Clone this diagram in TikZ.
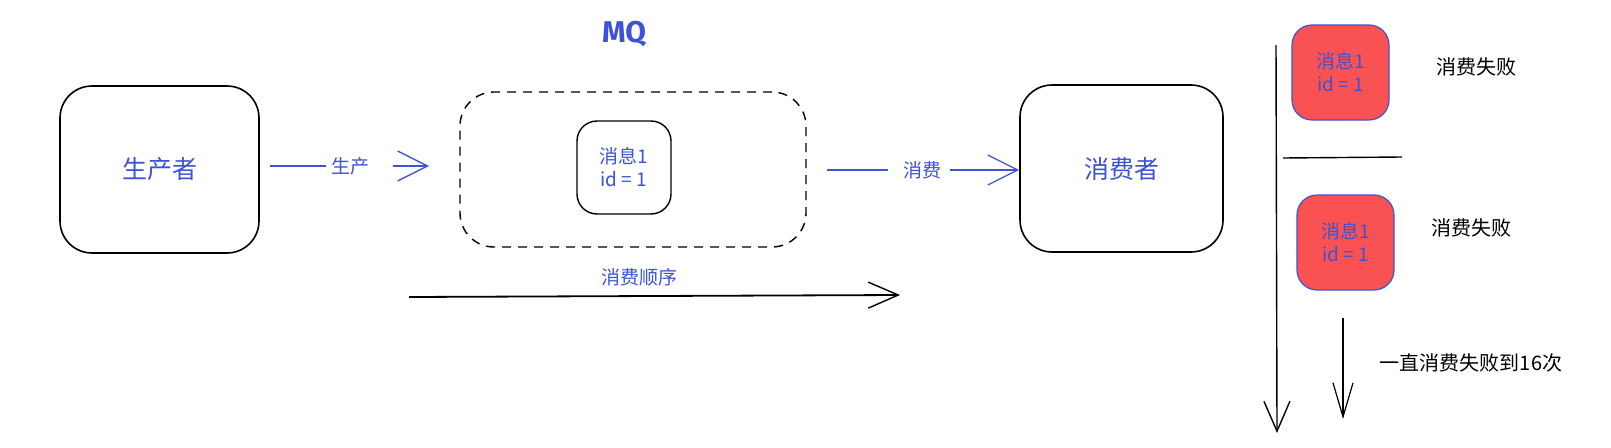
\documentclass[tikz,border=0pt]{standalone}
\usepackage{fontspec}
\setmainfont{Noto Sans CJK SC}
\newfontfamily\mqfont{Fira Sans}
\usetikzlibrary{arrows.meta}
\definecolor{ink}{HTML}{3D52D5}
\definecolor{redfill}{HTML}{FA5252}
\tikzset{
  bigbox/.style={draw=black,line width=1.6pt,rounded corners=32pt,minimum width=199pt,minimum height=167pt,text=ink,font=\fontsize{25}{28}\selectfont},
  msgbox/.style={draw=black,line width=1.4pt,rounded corners=20pt,minimum width=94pt,minimum height=93pt,text=ink,font=\fontsize{19}{23}\selectfont,align=center,inner sep=0pt},
  redbox/.style={draw=ink,fill=redfill,line width=1.2pt,rounded corners=20pt,minimum width=97pt,minimum height=95pt,text=ink,font=\fontsize{19}{23}\selectfont,align=center,inner sep=0pt},
  bluelbl/.style={text=ink,font=\fontsize{19}{22}\selectfont,inner sep=0pt},
  blacklbl/.style={text=black,font=\fontsize{20}{23}\selectfont,inner sep=0pt},
  bluearrow/.style={draw=ink,line width=1.3pt,-{Straight Barb[length=30pt,width=30pt,line width=1.3pt]}},
  blackarrow/.style={draw=black,line width=1.4pt,-{Straight Barb[length=30pt,width=26pt,line width=1.4pt]}},
}
\begin{document}
\begin{tikzpicture}[x=1pt,y=-1pt]
\useasboundingbox (0,0) rectangle (1611,447);
% producer / consumer
\node[bigbox] (prod) at (159.5,169.5) {生产者};
\node[bigbox,minimum width=203pt] (cons) at (1121.5,168.5) {消费者};
% MQ
\node[text=ink,font=\mqfont\bfseries\fontsize{30}{34}\selectfont] (mq) at (624,34) {MQ};
\node[draw=black,line width=1.4pt,dash pattern=on 9pt off 7pt,rounded corners=34pt,minimum width=346pt,minimum height=155pt] (queue) at (633,169.5) {};
\node[msgbox] (msg) at (624,167.5) {消息1\\id = 1};
% produce arrow
\coordinate (p1) at (270,166);
\coordinate (p2) at (326,166);
\coordinate (p3) at (393,166);
\coordinate (p4) at (429,166);
\node[bluelbl] (plbl) at (350,166) {生产};
\draw[draw=ink,line width=1.3pt] (p1) -- (p2);
\draw[bluearrow] (p3) -- (p4);
% consume arrow
\coordinate (c1) at (827,170);
\coordinate (c2) at (888,170);
\coordinate (c3) at (950,170);
\node[bluelbl] (clbl) at (922,170) {消费};
\draw[draw=ink,line width=1.3pt] (c1) -- (c2);
\draw[bluearrow] (c3) -- (cons.west |- c3);
% order arrow
\coordinate (o1) at (409,297);
\coordinate (o2) at (900,295);
\node[bluelbl] (olbl) at (639,277) {消费顺序};
\draw[blackarrow,line width=1.8pt] (o1) -- (o2);
% right side
\coordinate (v1) at (1276,45);
\coordinate (v2) at (1277,433);
\draw[blackarrow] (v1) -- (v2);
\node[redbox] (r1) at (1340.5,72.5) {消息1\\id = 1};
\node[blacklbl] (f1) at (1476,67) {消费失败};
\coordinate (h1) at (1283,158);
\coordinate (h2) at (1402,157);
\draw[line width=1.4pt] (h1) -- (h2);
\node[redbox] (r2) at (1345.5,242.5) {消息1\\id = 1};
\node[blacklbl] (f2) at (1471,228) {消费失败};
\coordinate (s1) at (1343,318);
\coordinate (s2) at (1343,419);
\draw[blackarrow,-{Straight Barb[length=34pt,width=20pt,line width=1.2pt]},line width=1.2pt] (s1) -- (s2);
\node[blacklbl] (f3) at (1471,363) {一直消费失败到16次};
\end{tikzpicture}
\end{document}
